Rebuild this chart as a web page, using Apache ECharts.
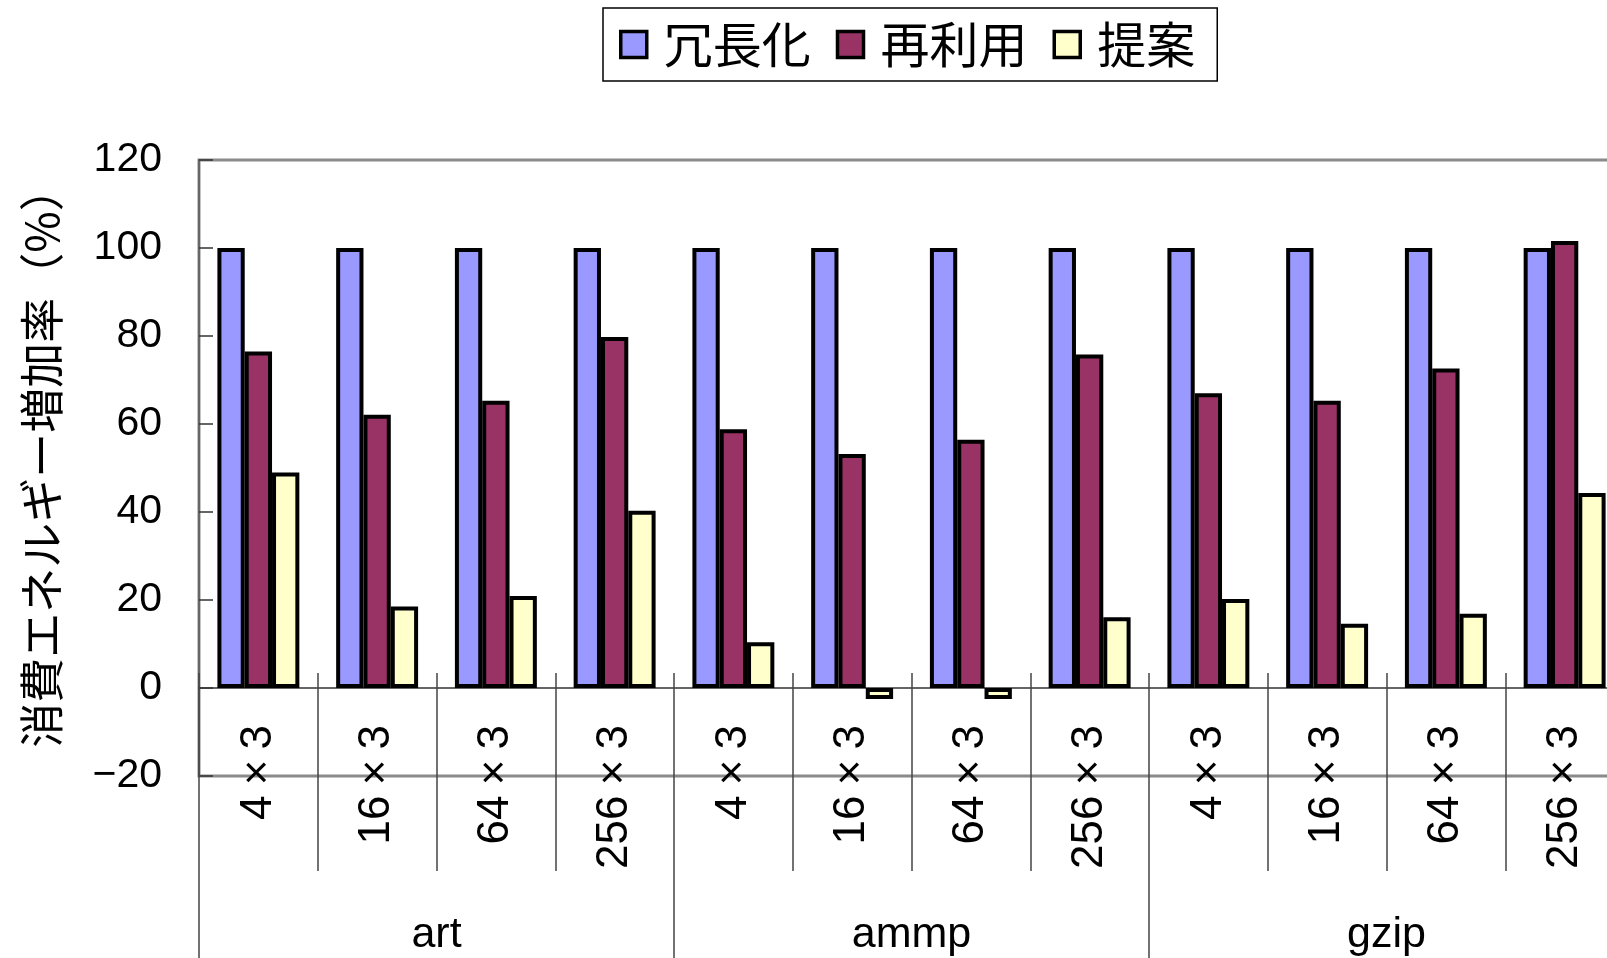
<!DOCTYPE html>
<html>
<head>
<meta charset="utf-8">
<title>消費エネルギー増加率</title>
<script src="https://cdn.jsdelivr.net/npm/echarts@6/dist/echarts.min.js"></script>
<style>
  html, body { margin: 0; padding: 0; background: #fff; }
  #chart { width: 1607px; height: 958px; }
</style>
</head>
<body>
<div id="chart"></div>
<script>
// Array sizes (one category per size, repeated for each benchmark)
const categories = [
  '4×3', '16×3', '64×3', '256×3',
  '4×3', '16×3', '64×3', '256×3',
  '4×3', '16×3', '64×3', '256×3'
];
// Benchmarks, each spanning four sizes
const groups = ['art', 'ammp', 'gzip'];

const seriesNames = ['冗長化', '再利用', '提案'];
// Energy increase rate (%) per configuration
const redundancy = [100, 100, 100, 100, 100, 100, 100, 100, 100, 100, 100, 100];
const reuse      = [76.5, 62.1, 65.3, 79.8, 58.8, 53.2, 56.4, 75.8, 67.0, 65.3, 72.6, 101.6];
const proposed   = [49.0, 18.5, 20.9, 40.3, 10.4, -2.5, -2.5, 16.1, 20.2, 14.6, 16.9, 44.3];

const yTicks = { min: -20, max: 120, step: 20 };
const colors = ['#9999FF', '#993366', '#FFFFCC'];

const LATIN = "'Liberation Sans', Arial, sans-serif";
const CJK = "'Noto Sans CJK JP', sans-serif";

const chart = echarts.init(document.getElementById('chart'), null, { renderer: 'canvas' });

const barSeries = [redundancy, reuse, proposed].map((values, i) => ({
  name: seriesNames[i],
  type: 'bar',
  xAxisIndex: 0,
  yAxisIndex: 0,
  data: values,
  barGap: '0%',
  barCategoryGap: '31%',
  itemStyle: { color: colors[i], borderColor: '#000', borderWidth: 4 }
}));

chart.setOption({
  animation: false,
  backgroundColor: '#fff',
  legend: {
    data: seriesNames,
    left: 603,
    top: 8,
    orient: 'horizontal',
    padding: [12, 22, 12, 16],
    borderColor: '#000',
    borderWidth: 1.5,
    backgroundColor: '#fff',
    itemWidth: 26,
    itemHeight: 26,
    itemGap: 25,
    icon: 'rect',
    itemStyle: { borderColor: '#000', borderWidth: 3.5 },
    textStyle: { fontSize: 49, fontFamily: CJK, color: '#000', padding: [0, 0, 0, 12] }
  },
  grid: {
    // the plot runs on past the right edge of the page
    left: 199,
    top: 160,
    width: 1425,
    bottom: 182,
    outerBoundsMode: 'none',
    containLabel: false,
    show: true,
    borderColor: '#8a8a8a',
    borderWidth: 3,
    backgroundColor: 'transparent'
  },
  xAxis: [
    {
      // size labels and separators hanging from the zero line
      type: 'category',
      data: categories,
      position: 'bottom',
      axisLine: { show: true, onZero: true, lineStyle: { color: '#333', width: 1.5 } },
      axisTick: { show: true, interval: 0, length: 183, lineStyle: { color: '#444', width: 1.5 } },
      axisLabel: {
        interval: 0,
        rotate: 90,
        margin: -51,
        fontSize: 44,
        fontFamily: LATIN,
        color: '#000',
        formatter: v => v.replace('×', '{x|×}'),
        rich: { x: { fontSize: 44, fontFamily: LATIN, color: '#000', width: 46, align: 'center' } }
      }
    },
    {
      // benchmark names along the bottom
      type: 'category',
      data: groups,
      position: 'bottom',
      axisLine: { show: false, onZero: false },
      axisTick: { show: true, interval: 0, length: 182, lineStyle: { color: '#444', width: 1.5 } },
      axisLabel: { interval: 0, margin: 138, fontSize: 43, fontFamily: LATIN, color: '#000' }
    },
    {
      // separators rising from the plot floor to just above the zero line
      type: 'category',
      data: categories,
      position: 'bottom',
      axisLine: { show: false, onZero: false },
      axisTick: { show: true, inside: true, interval: 0, length: 103, lineStyle: { color: '#444', width: 1.5 } },
      axisLabel: { show: false }
    }
  ],
  yAxis: {
    type: 'value',
    min: yTicks.min,
    max: yTicks.max,
    interval: yTicks.step,
    name: '消費エネルギー増加率（%）',
    nameLocation: 'middle',
    nameRotate: 90,
    nameGap: 135,
    nameTextStyle: { fontSize: 45, fontFamily: CJK, color: '#000', padding: [0, 0, 0, 22] },
    axisLine: { show: true, lineStyle: { color: '#666', width: 2 } },
    axisTick: { show: true, inside: true, length: 14, lineStyle: { color: '#333', width: 1.5 } },
    splitLine: { show: false },
    axisLabel: {
      margin: 37,
      fontSize: 41,
      fontFamily: LATIN,
      color: '#000',
      formatter: v => String(v).replace('-', '−')
    }
  },
  series: barSeries
});
</script>
</body>
</html>
